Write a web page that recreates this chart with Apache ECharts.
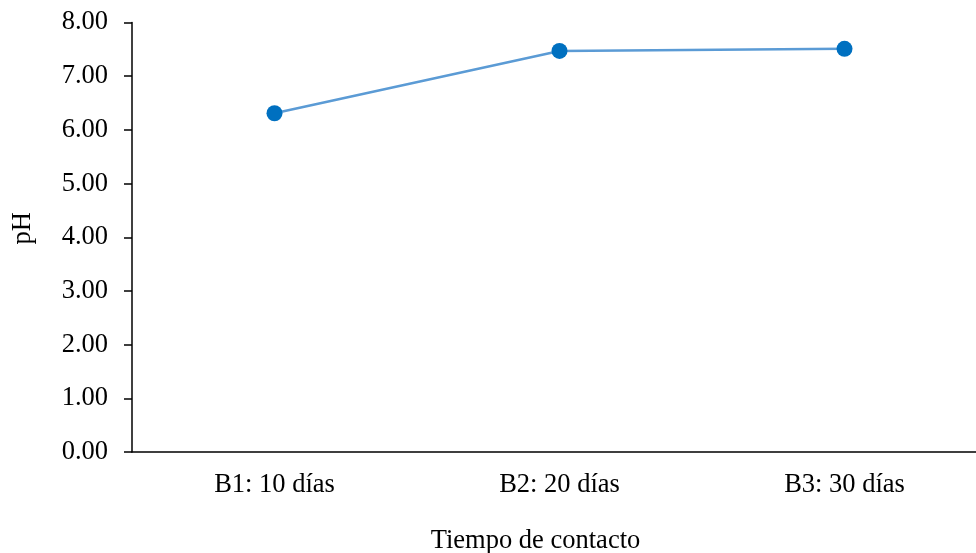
<!DOCTYPE html>
<html>
<head>
<meta charset="utf-8">
<script src="https://cdn.jsdelivr.net/npm/echarts@6/dist/echarts.min.js"></script>
<style>
  html, body { margin: 0; padding: 0; background: #ffffff; }
  #chart { width: 976px; height: 553px; }
</style>
</head>
<body>
<div id="chart"></div>
<script>
// pH over contact time
const categories = ['B1: 10 días', 'B2: 20 días', 'B3: 30 días'];
const phValues = [6.31, 7.47, 7.51];
const yTicks = { min: 0, max: 8, interval: 1 };

const serif = '"Liberation Serif", "DejaVu Serif", serif';
const fs = 26.5;

const chart = echarts.init(document.getElementById('chart'), null, { renderer: 'canvas' });
chart.setOption({
  animation: false,
  backgroundColor: '#ffffff',
  grid: {
    left: 132, top: 22.5, width: 855, height: 429.5,
    containLabel: false, outerBoundsMode: 'none'
  },
  xAxis: {
    type: 'category',
    data: categories,
    boundaryGap: true,
    name: 'Tiempo de contacto',
    nameLocation: 'middle',
    nameGap: 76,
    nameTextStyle: { fontFamily: serif, fontSize: fs, color: '#000', padding: [0, 48, 0, 0] },
    axisLine: { lineStyle: { color: '#000', width: 1.5 } },
    axisTick: { show: false },
    axisLabel: { fontFamily: serif, fontSize: fs, color: '#000', margin: 20 }
  },
  yAxis: {
    type: 'value',
    min: yTicks.min,
    max: yTicks.max,
    interval: yTicks.interval,
    name: 'pH',
    nameLocation: 'middle',
    nameGap: 95,
    nameRotate: 90,
    nameTextStyle: { fontFamily: serif, fontSize: fs, color: '#000', padding: [0, 0, 0, 18] },
    axisLine: { show: true, lineStyle: { color: '#000', width: 1.5 } },
    axisTick: { show: true, inside: false, length: 8, lineStyle: { color: '#000', width: 1.5 } },
    splitLine: { show: false },
    axisLabel: {
      fontFamily: serif, fontSize: fs, color: '#000', margin: 24,
      formatter: v => v.toFixed(2)
    }
  },
  series: [{
    type: 'line',
    data: phValues,
    symbol: 'circle',
    symbolSize: 16,
    itemStyle: { color: '#0070C0' },
    lineStyle: { color: '#5B9BD5', width: 2.5 }
  }]
});
</script>
</body>
</html>
